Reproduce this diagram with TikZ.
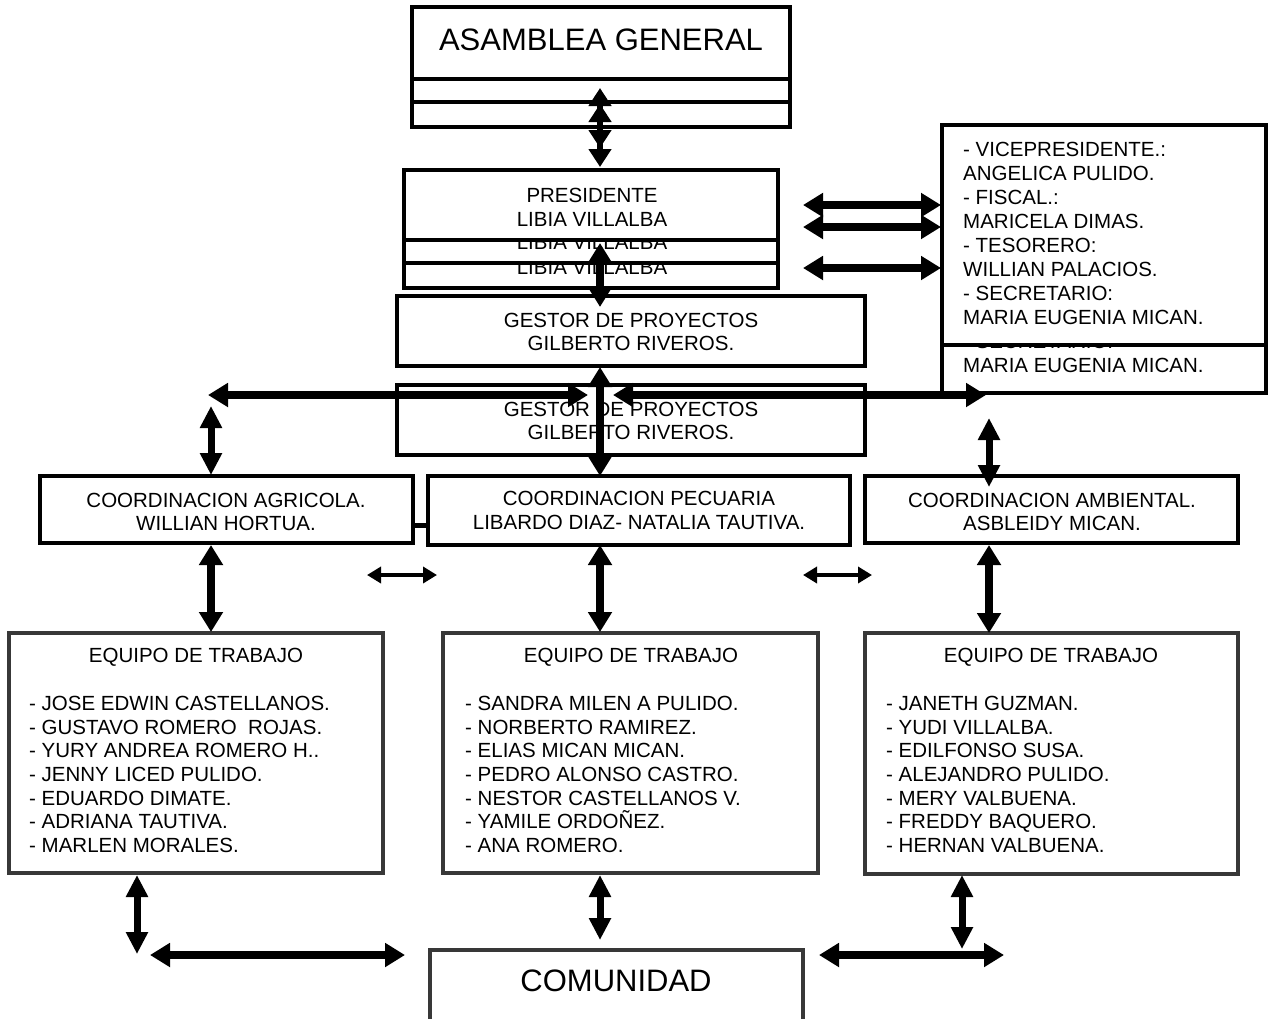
\documentclass[tikz,border=0pt]{standalone}
\usepackage{fontspec}
\setmainfont{Liberation Sans}
\usetikzlibrary{arrows.meta}
\begin{document}
\begin{tikzpicture}[x=1pt,y=-1pt,
  box/.style={draw=black,line width=4.5pt,fill=white,inner sep=0pt,outer sep=0pt,rectangle},
  tbox/.style={box,line width=4pt},
  gbox/.style={box,line width=4pt,draw=black!78},
  txt/.style={font={\fontsize{20.5}{24}\selectfont},inner sep=0pt,anchor=base},
  ltxt/.style={txt,anchor=base west},
  bigtxt/.style={font={\fontsize{31}{36}\selectfont},inner sep=0pt,anchor=base},
  arr/.style={line width=8pt,{Triangle[length=20pt,width=23pt]}-{Triangle[length=20pt,width=23pt]}},
  narr/.style={line width=6pt,{Triangle[length=18pt,width=22pt]}-{Triangle[length=18pt,width=22pt]}},
  sarr/.style={line width=4.5pt,{Triangle[length=14pt,width=16pt]}-{Triangle[length=14pt,width=16pt]}},
  varr/.style={line width=7pt,{Triangle[length=22pt,width=21pt]}-{Triangle[length=22pt,width=21pt]}}
]
\useasboundingbox (0,0) rectangle (1268,1018);
\clip (0,0) rectangle (1268,1018);
\fill[white] (0,0) rectangle (1268,1018);

% ASAMBLEA GENERAL (stacked)
\node[box,minimum width=378pt,minimum height=72pt] (asm3) at (601,91) {};
\node[box,minimum width=378pt,minimum height=72pt] (asm2) at (601,66) {};
\node[box,minimum width=378pt,minimum height=72pt] (asm1) at (601,43) {};
\node[bigtxt] (asmt) at (601,50) {ASAMBLEA GENERAL};

% PRESIDENTE (stacked; only the visible parts of the back copies carry text)
\node[box,minimum width=374pt,minimum height=70pt] (pre3) at (591,253) {};
\node[txt] (pre3b) at (592,274) {LIBIA VILLALBA};
\node[box,minimum width=374pt,minimum height=70pt] (pre2) at (591,228) {};
\node[txt] (pre2b) at (592,249) {LIBIA VILLALBA};
\node[box,minimum width=374pt,minimum height=70pt] (pre1) at (591,205) {};
\node[txt] (pre1a) at (592,202) {PRESIDENTE};
\node[txt] (pre1b) at (592,226) {LIBIA VILLALBA};

% Officers box (stacked)
\node[tbox,minimum width=324pt,minimum height=220pt] (off2) at (1104,283) {};
\node[ltxt] (off2l6) at (963,348.3) {- SECRETARIO:};
\node[ltxt] (off2l7) at (963,372.3) {MARIA EUGENIA MICAN.};
\node[tbox,minimum width=324pt,minimum height=220pt] (off1) at (1104,235) {};
\foreach \s [count=\i from 0] in {{- VICEPRESIDENTE.:},{ANGELICA PULIDO.},{- FISCAL.:},{MARICELA DIMAS.},{- TESORERO:},{WILLIAN PALACIOS.},{- SECRETARIO:},{MARIA EUGENIA MICAN.}}{
  \node[ltxt] (off1l\i) at (963,156.3+24*\i) {\s};
}

% GESTOR DE PROYECTOS (two)
\foreach \k/\T in {1/296,2/385}{
  \node[tbox,minimum width=468pt,minimum height=70pt] (ges\k) at (631,\T+35) {};
  \node[txt] (ges\k a) at (631,\T+31) {GESTOR DE PROYECTOS};
  \node[txt] (ges\k b) at (631,\T+54) {GILBERTO RIVEROS.};
}

% Coordinaciones
\node[tbox,minimum width=373pt,minimum height=67pt] (agr) at (226.5,509.5) {};
\node[txt] (agra) at (226,507) {COORDINACION AGRICOLA.};
\node[txt] (agrb) at (226,530) {WILLIAN HORTUA.};
\node[tbox,minimum width=422pt,minimum height=69pt] (pec) at (639,510.5) {};
\node[txt] (peca) at (639,505.5) {COORDINACION PECUARIA};
\node[txt] (pecb) at (639,529) {LIBARDO DIAZ- NATALIA TAUTIVA.};
\node[tbox,minimum width=373pt,minimum height=67pt] (amb) at (1051.5,509.5) {};
\node[txt] (amba) at (1052,507) {COORDINACION AMBIENTAL.};
\node[txt] (ambb) at (1052,530) {ASBLEIDY MICAN.};
\draw[line width=5pt] (agr.east |- 0,525) -- (pec.west |- 0,525);

% Equipos de trabajo
\node[gbox,minimum width=374pt,minimum height=240pt] (eq1) at (196,753) {};
\node[txt] (eq1t) at (196,662) {EQUIPO DE TRABAJO};
\foreach \s [count=\i from 0] in {{JOSE EDWIN CASTELLANOS.},{GUSTAVO ROMERO\ \ ROJAS.},{YURY ANDREA ROMERO H..},{JENNY LICED PULIDO.},{EDUARDO DIMATE.},{ADRIANA TAUTIVA.},{MARLEN MORALES.}}{
  \node[ltxt] (eq1l\i) at (29,710.3+23.7*\i) {- \s};
}
\node[gbox,minimum width=375pt,minimum height=240pt] (eq2) at (630.5,753) {};
\node[txt] (eq2t) at (631,662) {EQUIPO DE TRABAJO};
\foreach \s [count=\i from 0] in {{SANDRA MILEN A PULIDO.},{NORBERTO RAMIREZ.},{ELIAS MICAN MICAN.},{PEDRO ALONSO CASTRO.},{NESTOR CASTELLANOS V.},{YAMILE ORDOÑEZ.},{ANA ROMERO.}}{
  \node[ltxt] (eq2l\i) at (465,710.3+23.7*\i) {- \s};
}
\node[gbox,minimum width=373pt,minimum height=241pt] (eq3) at (1051.5,753.5) {};
\node[txt] (eq3t) at (1051,662) {EQUIPO DE TRABAJO};
\foreach \s [count=\i from 0] in {{JANETH GUZMAN.},{YUDI VILLALBA.},{EDILFONSO SUSA.},{ALEJANDRO PULIDO.},{MERY VALBUENA.},{FREDDY BAQUERO.},{HERNAN VALBUENA.}}{
  \node[ltxt] (eq3l\i) at (886,710.3+23.7*\i) {- \s};
}

% Comunidad
\node[gbox,minimum width=373pt,minimum height=110pt] (com) at (616.5,1005) {};
\node[bigtxt] (comt) at (616,991) {COMUNIDAD};

% connector end points
\coordinate (a1t) at (600,88);  \coordinate (a1b) at (600,148);
\coordinate (a2t) at (600,104); \coordinate (a2b) at (600,167);
\coordinate (a3t) at (600,243); \coordinate (a3b) at (600,307);
\coordinate (a4t) at (600,367); \coordinate (a4b) at (600,476);
\coordinate (h1l) at (208,395); \coordinate (h1r) at (588,395);
\coordinate (h2l) at (613,395); \coordinate (h2r) at (986,395);
\coordinate (v1t) at (211,406); \coordinate (v1b) at (211,475);
\coordinate (v2t) at (989,418); \coordinate (v2b) at (989,487);
\coordinate (o1l) at (803,205); \coordinate (o1r) at (941,205);
\coordinate (o2l) at (803,227); \coordinate (o2r) at (941,227);
\coordinate (o3l) at (803,268); \coordinate (o3r) at (941,268);
\coordinate (c1t) at (211,545); \coordinate (c1b) at (211,632);
\coordinate (c2t) at (600,545); \coordinate (c2b) at (600,632);
\coordinate (c3t) at (989,545); \coordinate (c3b) at (989,633);
\coordinate (s1l) at (367,575); \coordinate (s1r) at (437,575);
\coordinate (s2l) at (803,575); \coordinate (s2r) at (872,575);
\coordinate (b1t) at (137,875); \coordinate (b1b) at (137,954);
\coordinate (b2l) at (150,955); \coordinate (b2r) at (405,955);
\coordinate (b3t) at (600,875); \coordinate (b3b) at (600,940);
\coordinate (b4t) at (962,875); \coordinate (b4b) at (962,949);
\coordinate (b5l) at (819,955); \coordinate (b5r) at (1004,955);

% connectors
\draw[narr] (a1t) -- (a1b);
\draw[narr] (a2t) -- (a2b);
\draw[arr] (a3t) -- (a3b);
\draw[arr] (a4t) -- (a4b);
\draw[arr] (h1l) -- (h1r);
\draw[arr] (h2l) -- (h2r);
\draw[varr] (v1t) -- (v1b);
\draw[varr] (v2t) -- (v2b);
\draw[arr] (o1l) -- (o1r);
\draw[arr] (o2l) -- (o2r);
\draw[arr] (o3l) -- (o3r);
\draw[arr] (c1t) -- (c1b);
\draw[arr] (c2t) -- (c2b);
\draw[arr] (c3t) -- (c3b);
\draw[sarr] (s1l) -- (s1r);
\draw[sarr] (s2l) -- (s2r);
\draw[varr] (b1t) -- (b1b);
\draw[arr] (b2l) -- (b2r);
\draw[varr] (b3t) -- (b3b);
\draw[varr] (b4t) -- (b4b);
\draw[arr] (b5l) -- (b5r);
\end{tikzpicture}
\end{document}
